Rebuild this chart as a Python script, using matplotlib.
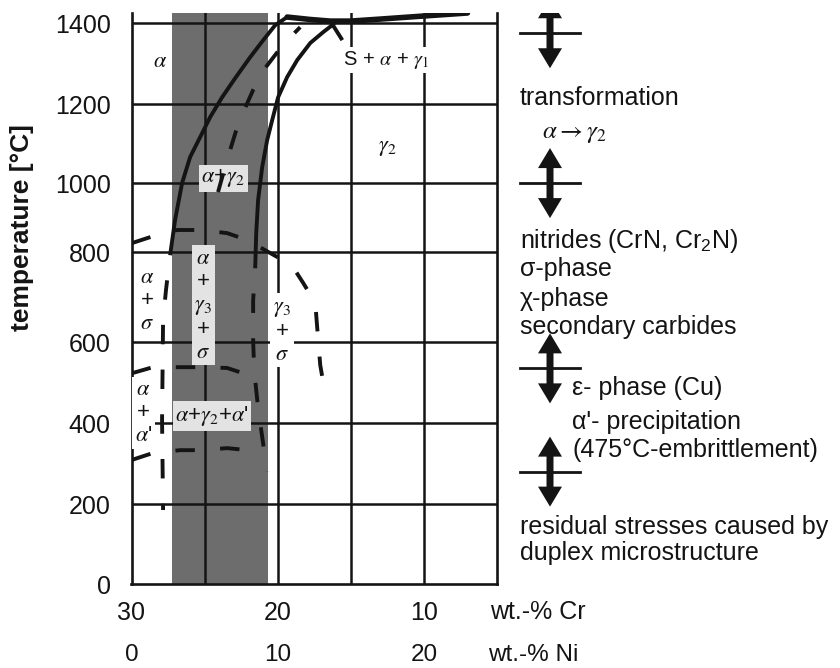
import numpy as np
import matplotlib
matplotlib.use("Agg")
import matplotlib.pyplot as plt
from matplotlib.patches import Polygon
from matplotlib.transforms import ScaledTranslation

plt.rcParams["font.family"] = ["Liberation Sans", "DejaVu Sans"]
plt.rcParams["mathtext.fontset"] = "stix"

W, H, DPI = 840, 668, 100
INK = "#141414"
BAND = "#6d6d6d"
BOX = "#e3e3e3"

# The temperature axis of the original is not evenly spaced (the 800 line sits
# high), so the scale is piecewise linear between the gridlines.
T_KNOTS = [-200, 0, 200, 400, 600, 800, 1000, 1200, 1400, 1600]
T_HEIGHT = [-80, 0, 80, 161, 242, 332, 401, 480, 561, 642]

TEMP_TICKS = [0, 200, 400, 600, 800, 1000, 1200, 1400]
CR_TICKS = [30, 20, 10]
NI_TICKS = [0, 10, 20]
CR_GRID = [25, 20, 15, 10]
DUPLEX_RANGE = (27.2, 20.65)   # shaded composition window, wt.-% Cr

# phase boundaries as (wt.-% Cr, temperature)
ALPHA_CR = [27.36, 27.02, 26.54, 25.99, 25.31, 24.62, 23.80, 22.91, 21.88, 20.99, 20.17, 19.35]
ALPHA_T = [793, 893, 1000, 1066, 1116, 1167, 1217, 1264, 1316, 1358, 1395, 1415]

GAMMA_CR = [21.54, 21.47, 21.34, 21.06, 20.72, 20.38, 19.97, 19.35, 18.66, 17.77, 16.88, 16.27, 16.0]
GAMMA_T = [764, 855, 951, 1041, 1109, 1159, 1217, 1267, 1309, 1351, 1378, 1395, 1405]

MID_CR = [24.08, 23.66, 23.25, 22.77, 22.23, 21.68, 20.86, 20.03, 19.14, 18.46]
MID_T = [974, 1033, 1084, 1142, 1190, 1235, 1289, 1328, 1365, 1390]

LIQUIDUS_CR = [19.35, 17.77, 16.40, 15.03, 12.98, 10.24, 7.02]
LIQUIDUS_T = [1415, 1409, 1405, 1405, 1410, 1417, 1425]
PERITECTIC_CR = [16.40, 15.58]
PERITECTIC_T = [1405, 1358]

SIGMA_CR = [29.97, 28.53, 26.88, 25.31, 23.46, 22.09, 20.03, 19.14, 18.25, 17.43, 17.23, 17.09, 16.88]
SIGMA_T = [826, 846, 864, 864, 855, 835, 789, 776, 731, 687, 604, 543, 499]

ALPHA_LOW_CR = [27.36, 27.64, 27.84, 27.91, 27.84]
ALPHA_LOW_T = [793, 716, 649, 407, 185]

GAMMA_LOW_CR = [21.54, 21.68, 21.68, 21.61, 21.40, 21.13, 20.72]
GAMMA_LOW_T = [764, 693, 604, 531, 457, 383, 280]

PRIME_UP_CR = [29.97, 28.53, 26.68, 25.31, 23.46, 22.02, 21.58]
PRIME_UP_T = [523, 538, 538, 538, 536, 519, 511]
PRIME_LOW_CR = [29.97, 28.53, 26.68, 25.31, 23.46, 22.02, 21.0]
PRIME_LOW_T = [309, 326, 333, 333, 338, 333, 333]

# temperatures that separate the effects listed on the right
EFFECT_T = [1375, 1000, 535, 280]


def fwd(t):
    return np.interp(t, T_KNOTS, T_HEIGHT)


def inv(u):
    return np.interp(u, T_HEIGHT, T_KNOTS)


def px(x, y):
    return x / W, 1 - y / H


fig = plt.figure(figsize=(W / DPI, H / DPI), dpi=DPI)
ax = fig.add_axes([131.5 / W, 84 / H, 365.5 / W, 571 / H])
ax.set_yscale("function", functions=(fwd, inv))
ax.set_xlim(30, 5)
ax.set_ylim(0, 1425)
ax.set_autoscale_on(False)

ax.spines["top"].set_visible(False)
for side in ("left", "bottom", "right"):
    ax.spines[side].set_linewidth(1.9)
    ax.spines[side].set_color(INK)

ax.set_xticks(CR_TICKS)
ax.set_yticks(TEMP_TICKS)
ax.yaxis.set_minor_locator(matplotlib.ticker.NullLocator())
ax.xaxis.set_minor_locator(matplotlib.ticker.NullLocator())
ax.tick_params(length=0, labelsize=18, colors=INK)
ax.tick_params(axis="x", pad=12)
ax.tick_params(axis="y", pad=15)

# nickel runs the other way along the same axis
sec = ax.secondary_xaxis(-43 / 571, functions=(lambda c: 30 - c, lambda n: 30 - n))
sec.set_xticks(NI_TICKS)
sec.tick_params(length=0, labelsize=17.5, colors=INK, pad=12)
sec.spines["bottom"].set_visible(False)

ax.axvspan(*DUPLEX_RANGE, color=BAND, lw=0, zorder=0.5)
for t in TEMP_TICKS[1:]:
    ax.axhline(t, color=INK, lw=1.8, zorder=1)
for c in CR_GRID:
    ax.axvline(c, color=INK, lw=1.8, zorder=1)

solid = dict(color=INK, lw=2.8, zorder=4, solid_capstyle="butt")
dashed = dict(color=INK, lw=2.8, zorder=4, ls=(0, (5, 6.5)), dash_capstyle="butt")
# continuations of a solid boundary start with a gap, as in the original
continued = dict(dashed, ls=(5, (5, 6.5)))
ax.plot(ALPHA_CR, ALPHA_T, **solid)
ax.plot(GAMMA_CR, GAMMA_T, **solid)
ax.plot(LIQUIDUS_CR, LIQUIDUS_T, color=INK, lw=4, zorder=4, solid_capstyle="round")
ax.plot(PERITECTIC_CR, PERITECTIC_T, **solid)
ax.plot(MID_CR, MID_T, **dashed)
ax.plot(SIGMA_CR, SIGMA_T, **dashed)
ax.plot(ALPHA_LOW_CR, ALPHA_LOW_T, **continued)
ax.plot(GAMMA_LOW_CR, GAMMA_LOW_T, **continued)
ax.plot(PRIME_UP_CR, PRIME_UP_T, **dashed)
ax.plot(PRIME_LOW_CR, PRIME_LOW_T, **dashed)

grey_box = dict(boxstyle="square,pad=0.12", fc=BOX, ec="none")
white_box = dict(boxstyle="square,pad=0.12", fc="white", ec="none")
lab = dict(ha="center", va="center", fontsize=16, color=INK, zorder=3, linespacing=1.12)
ax.text(28.05, 1304, r"$\alpha$", **lab)
ax.text(12.6, 1309, r"S + $\alpha$ + $\gamma_1$", bbox=white_box, **dict(lab, fontsize=14.5))
ax.text(12.5, 1091, r"$\gamma_2$", **lab)
ax.text(23.73, 1012, r"$\alpha$+$\gamma_2$", bbox=grey_box, **lab)
ax.text(25.1, 682, "$\\alpha$\n+\n$\\gamma_3$\n+\n$\\sigma$", bbox=grey_box, **lab)
ax.text(28.94, 693, "$\\alpha$\n+\n$\\sigma$", **lab)
ax.text(19.7, 624, "$\\gamma_3$\n+\n$\\sigma$", bbox=white_box, **lab)
ax.text(29.2, 425, "$\\alpha$\n+\n$\\alpha$'", bbox=white_box, **lab)
ax.text(24.49, 417, r"$\alpha$+$\gamma_2$+$\alpha$'", bbox=grey_box, **lab)

fig.text(*px(22, 228), "temperature [°C]", rotation=90, ha="center", va="center",
         fontsize=19, fontweight="bold", color=INK)
fig.text(*px(490, 612), "wt.-% Cr", ha="left", va="center", fontsize=18, color=INK)
fig.text(*px(488, 655), "wt.-% Ni", ha="left", va="center", fontsize=17.5, color=INK)

# right-hand column: effects between the marked temperatures
ax2 = fig.add_axes([500 / W, 84 / H, 340 / W, 571 / H])
ax2.set_yscale("function", functions=(fwd, inv))
ax2.set_xlim(0, 1)
ax2.set_ylim(0, 1425)
ax2.set_autoscale_on(False)
ax2.axis("off")

shape = np.array([(0, 35), (12, 15), (3.5, 15), (3.5, -15), (12, -15), (0, -35),
                  (-12, -15), (-3.5, -15), (-3.5, 15), (-12, 15)]) / DPI
xc = 50 / 340
for t in EFFECT_T:
    tr = fig.dpi_scale_trans + ScaledTranslation(xc, t, ax2.transData)
    ax2.add_patch(Polygon(shape, closed=True, fc=INK, ec="none", transform=tr))
    ax2.plot([20 / 340, 80 / 340], [t, t], color=INK, lw=2.0)

side = dict(ha="left", va="center", fontsize=18, color=INK)
fig.text(*px(520, 98), "transformation", **side)
fig.text(*px(542, 133), r"$\alpha \rightarrow \gamma_2$", **side)
fig.text(*px(520, 241), "nitrides (CrN, Cr$_\\mathregular{2}$N)", **side)
fig.text(*px(520, 269), "σ-phase", **side)
fig.text(*px(520, 299), "χ-phase", **side)
fig.text(*px(520, 327), "secondary carbides", **side)
fig.text(*px(572, 388), "ε- phase (Cu)", **side)
fig.text(*px(572, 422), "α'- precipitation", **side)
fig.text(*px(572, 450), "(475°C-embrittlement)", **side)
fig.text(*px(520, 527), "residual stresses caused by", **side)
fig.text(*px(520, 553), "duplex microstructure", **side)

fig.savefig("out.png", dpi=DPI)
